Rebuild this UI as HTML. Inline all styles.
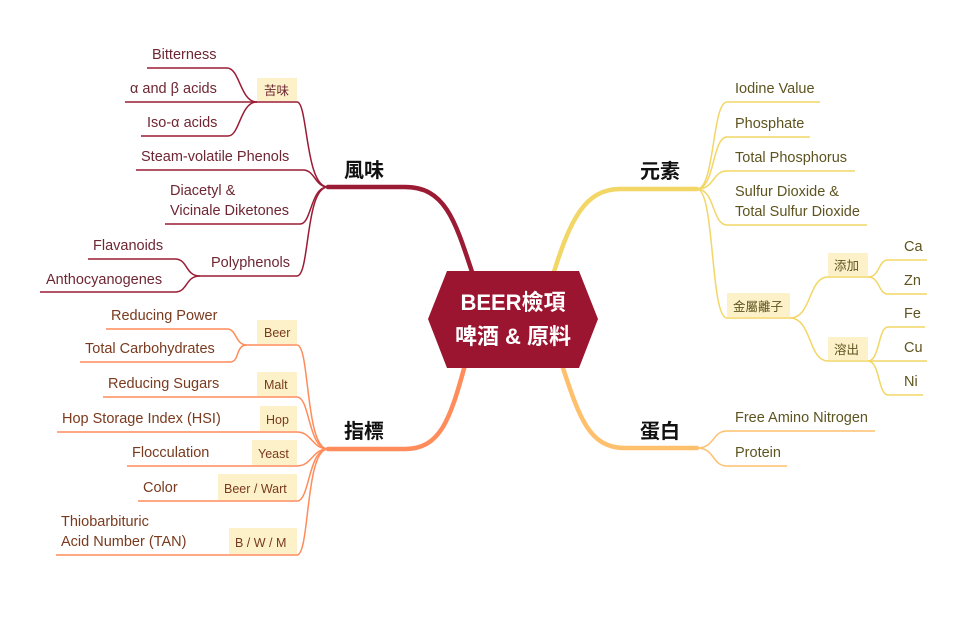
<!DOCTYPE html>
<html><head><meta charset="utf-8"><style>
html,body{margin:0;padding:0;background:#fff;}
svg{display:block;font-family:"Liberation Sans","Noto Sans CJK TC",sans-serif;}
.r{fill:#6e2633;font-size:14.5px}
.o{fill:#7a3a1e;font-size:14.5px}
.y{fill:#5e5420;font-size:14.5px}
.lab{font-size:12.5px}
.main{font-size:20px;font-weight:bold;fill:#111;font-family:"Noto Sans CJK TC",sans-serif}
</style></head><body>
<svg width="968" height="622" viewBox="0 0 968 622" xmlns="http://www.w3.org/2000/svg">
<g fill="none" stroke-linecap="round">
<path d="M473 275 C455 220 445 187 405 187 L328 187" stroke="#9b1b35" stroke-width="4.5"/>
<path d="M553 275 C570 220 585 189 620 189 L697 189" stroke="#f2d666" stroke-width="4.5"/>
<path d="M562 365 C580 420 590 448 625 448 L697 448" stroke="#ffc06e" stroke-width="4.5"/>
<path d="M465 365 C450 420 440 449 405 449 L328 449" stroke="#ff8c5a" stroke-width="4.5"/>
</g>
<polygon points="447,271 579,271 598,319 579,368 447,368 428,319" fill="#9b1530"/>
<text x="513" y="310" text-anchor="middle" fill="#fff" font-size="22" font-weight="bold" font-family="Liberation Sans,Noto Sans CJK TC,sans-serif">BEER檢項</text>
<text x="513" y="344" text-anchor="middle" fill="#fff" font-size="22" font-weight="bold" font-family="Liberation Sans,Noto Sans CJK TC,sans-serif">啤酒 &amp; 原料</text>
<text x="344" y="177" class="main">風味</text>
<text x="640" y="178" class="main">元素</text>
<text x="640" y="438" class="main">蛋白</text>
<text x="344" y="438" class="main">指標</text>

<g fill="#fcf1c8">
<rect x="257" y="78" width="40" height="23"/>
<rect x="257" y="320" width="40" height="24"/>
<rect x="257" y="372" width="40" height="24"/>
<rect x="260" y="406" width="37" height="25"/>
<rect x="252" y="440" width="45" height="25"/>
<rect x="218" y="474" width="79" height="26"/>
<rect x="229" y="528" width="68" height="26"/>
<rect x="727" y="293" width="63" height="24"/>
<rect x="828" y="253" width="40" height="23"/>
<rect x="828" y="337" width="40" height="23"/>
</g>

<g fill="none" stroke="#9b1b35" stroke-width="1.5">
<path d="M328 187 C305 187 308 102 297 102 L257 102"/>
<path d="M257 102 C240 102 240 68 227 68 L147 68"/>
<path d="M257 102 L125 102"/>
<path d="M257 102 C240 102 240 136 228 136 L141 136"/>
<path d="M328 187 C315 187 315 170 303 170 L136 170"/>
<path d="M328 187 C310 187 312 224 300 224 L165 224"/>
<path d="M328 187 C305 187 310 276 297 276 L200 276"/>
<path d="M200 276 C185 276 188 259 175 259 L88 259"/>
<path d="M200 276 C185 276 188 292 175 292 L40 292"/>
</g>
<text x="152" y="59" class="r">Bitterness</text>
<text x="130" y="93" class="r">α and β acids</text>
<text x="147" y="127" class="r">Iso-α acids</text>
<text x="141" y="161" class="r">Steam-volatile Phenols</text>
<text x="170" y="195" class="r">Diacetyl &amp;</text>
<text x="170" y="215" class="r">Vicinale Diketones</text>
<text x="211" y="267" class="r">Polyphenols</text>
<text x="93" y="250" class="r">Flavanoids</text>
<text x="46" y="284" class="r">Anthocyanogenes</text>
<text x="264" y="95" class="r lab">苦味</text>

<g fill="none" stroke="#ff8c5a" stroke-width="1.5">
<path d="M328 449 C305 449 310 345 297 345 L247 345"/>
<path d="M247 345 C235 345 237 329 227 329 L106 329"/>
<path d="M247 345 C235 345 240 362 230 362 L80 362"/>
<path d="M328 449 C308 449 310 397 297 397 L103 397"/>
<path d="M328 449 C312 449 312 432 297 432 L57 432"/>
<path d="M328 449 C312 449 312 466 297 466 L127 466"/>
<path d="M328 449 C308 449 310 501 297 501 L138 501"/>
<path d="M328 449 C305 449 310 555 297 555 L56 555"/>
</g>
<text x="111" y="320" class="o">Reducing Power</text>
<text x="85" y="353" class="o">Total Carbohydrates</text>
<text x="108" y="388" class="o">Reducing Sugars</text>
<text x="62" y="423" class="o">Hop Storage Index (HSI)</text>
<text x="132" y="457" class="o">Flocculation</text>
<text x="143" y="492" class="o">Color</text>
<text x="61" y="526" class="o">Thiobarbituric</text>
<text x="61" y="546" class="o">Acid Number (TAN)</text>
<text x="264" y="337" class="o lab">Beer</text>
<text x="264" y="389" class="o lab">Malt</text>
<text x="266" y="424" class="o lab">Hop</text>
<text x="258" y="458" class="o lab">Yeast</text>
<text x="224" y="493" class="o lab">Beer / Wart</text>
<text x="235" y="547" class="o lab">B / W / M</text>

<g fill="none" stroke="#f2d666" stroke-width="1.5">
<path d="M697 189 C715 189 712 102 727 102 L820 102"/>
<path d="M697 189 C715 189 712 137 727 137 L810 137"/>
<path d="M697 189 C715 189 712 171 727 171 L855 171"/>
<path d="M697 189 C715 189 712 225 727 225 L867 225"/>
<path d="M697 189 C715 189 710 318 727 318 L790 318"/>
<path d="M790 318 C812 318 808 277 828 277 L868 277"/>
<path d="M790 318 C812 318 808 361 828 361 L868 361"/>
<path d="M868 277 C880 277 878 260 888 260 L927 260"/>
<path d="M868 277 C880 277 878 294 888 294 L927 294"/>
<path d="M868 361 C880 361 878 327 888 327 L925 327"/>
<path d="M868 361 L927 361"/>
<path d="M868 361 C880 361 878 395 888 395 L923 395"/>
</g>
<g fill="none" stroke="#ffc06e" stroke-width="1.5">
<path d="M697 448 C715 448 712 431 727 431 L875 431"/>
<path d="M697 448 C715 448 712 466 727 466 L787 466"/>
</g>
<text x="735" y="93" class="y">Iodine Value</text>
<text x="735" y="128" class="y">Phosphate</text>
<text x="735" y="162" class="y">Total Phosphorus</text>
<text x="735" y="196" class="y">Sulfur Dioxide &amp;</text>
<text x="735" y="216" class="y">Total Sulfur Dioxide</text>
<text x="733" y="311" class="y lab">金屬離子</text>
<text x="834" y="270" class="y lab">添加</text>
<text x="834" y="354" class="y lab">溶出</text>
<text x="904" y="251" class="y">Ca</text>
<text x="904" y="285" class="y">Zn</text>
<text x="904" y="318" class="y">Fe</text>
<text x="904" y="352" class="y">Cu</text>
<text x="904" y="386" class="y">Ni</text>
<text x="735" y="422" class="y">Free Amino Nitrogen</text>
<text x="735" y="457" class="y">Protein</text>
</svg>
</body></html>
